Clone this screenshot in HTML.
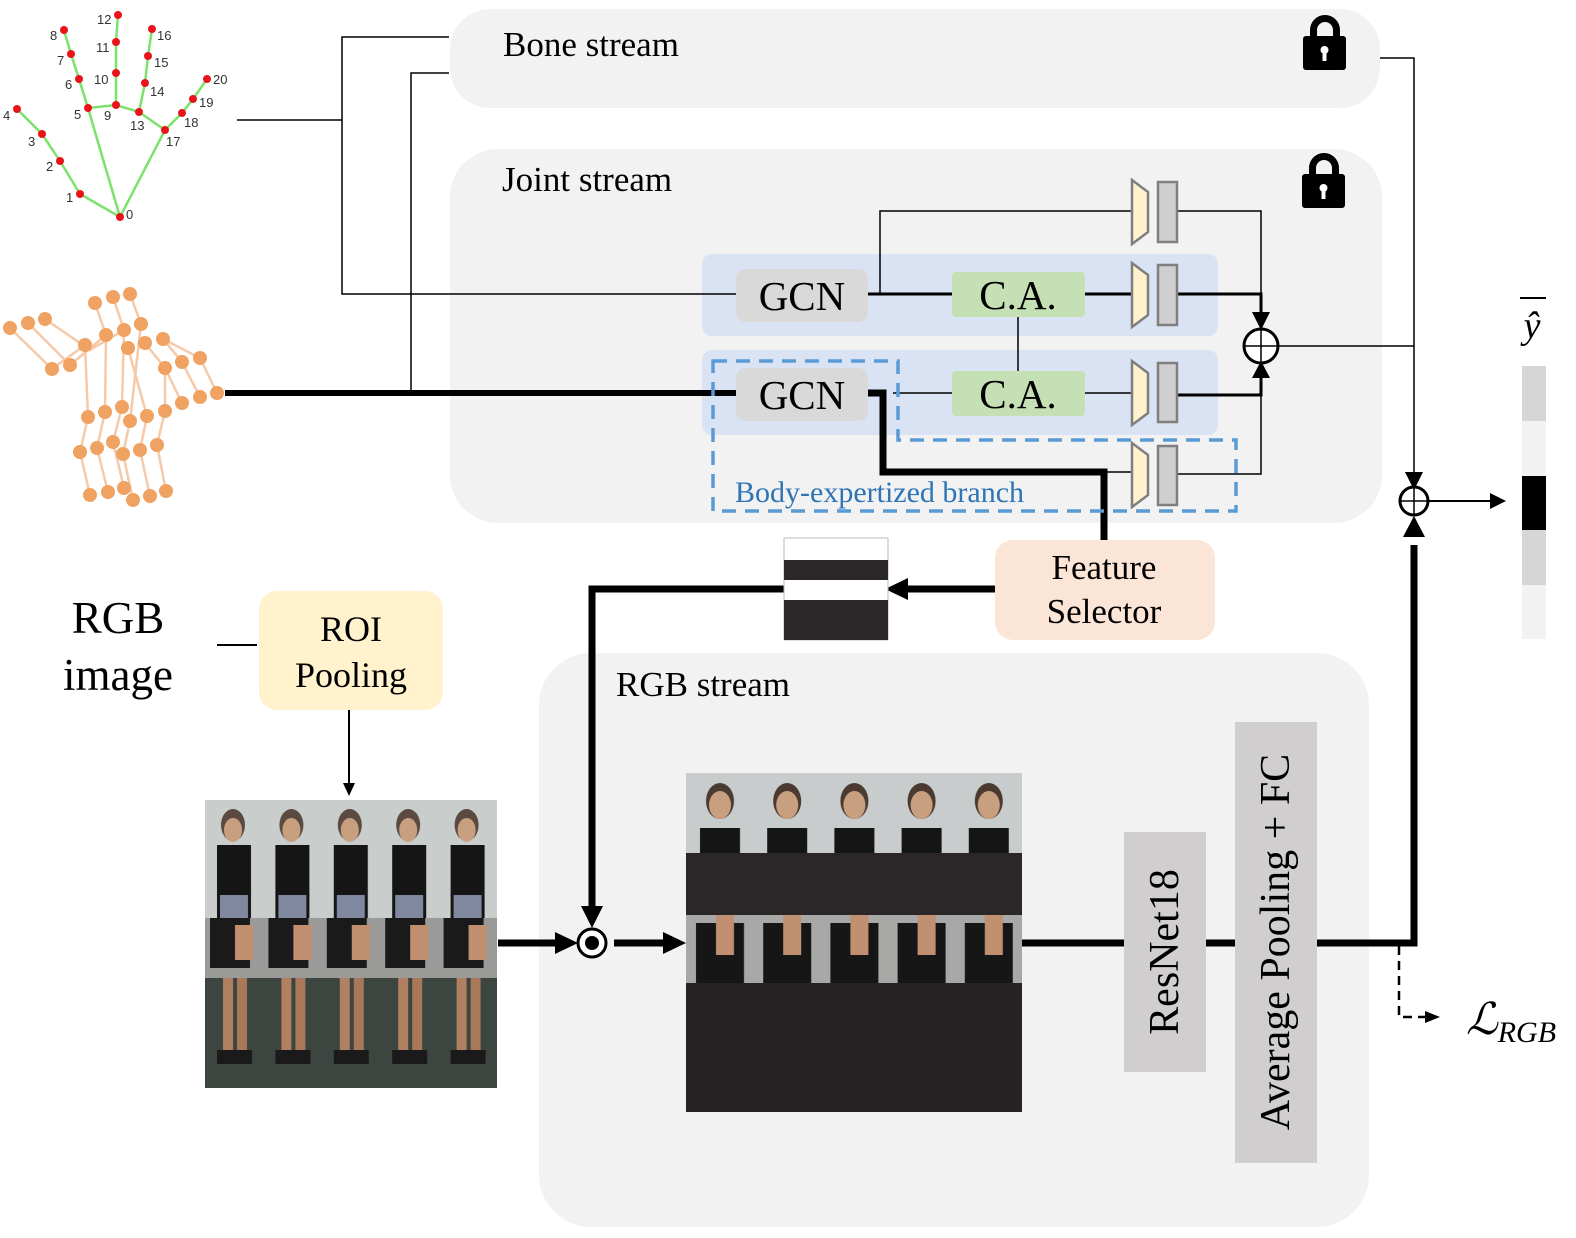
<!DOCTYPE html>
<html><head><meta charset="utf-8"><style>
html,body{margin:0;padding:0;background:#fff;}
svg{display:block;font-family:"Liberation Serif",serif;}
</style></head><body>
<svg width="1576" height="1238" viewBox="0 0 1576 1238" xmlns="http://www.w3.org/2000/svg">
<defs>
<pattern id="pl" x="205" y="800" width="58.4" height="288" patternUnits="userSpaceOnUse">
<rect width="58.4" height="118" fill="#c9cdcc"/>
<ellipse cx="28" cy="25" rx="12" ry="16" fill="#5a4a40"/>
<ellipse cx="28" cy="30" rx="9" ry="12" fill="#c8a080"/>
<rect x="12" y="45" width="34" height="73" fill="#151515"/>
<rect x="15" y="95" width="28" height="23" fill="#8088a0"/>
<rect y="118" width="58.4" height="60" fill="#9a9a98"/>
<rect x="5" y="118" width="40" height="50" fill="#1a1a1a"/>
<rect x="30" y="125" width="18" height="35" fill="#c09070"/>
<rect y="178" width="58.4" height="110" fill="#3c4540"/>
<rect x="18" y="178" width="10" height="80" fill="#b08060"/>
<rect x="32" y="178" width="10" height="80" fill="#a87858"/>
<rect x="12" y="250" width="35" height="14" fill="#1a1a1a"/>
</pattern>
<pattern id="pr" x="686" y="773" width="67.2" height="339" patternUnits="userSpaceOnUse">
<rect width="67.2" height="80" fill="#c8cccc"/>
<ellipse cx="34" cy="28" rx="14" ry="18" fill="#4a3a30"/>
<ellipse cx="34" cy="32" rx="11" ry="14" fill="#c8a080"/>
<rect x="14" y="55" width="40" height="25" fill="#151515"/>
<rect y="80" width="67.2" height="62" fill="#2b2728"/>
<rect y="142" width="67.2" height="68" fill="#a8a8a6"/>
<rect x="10" y="150" width="48" height="60" fill="#161616"/>
<rect x="30" y="142" width="18" height="40" fill="#c09070"/>
<rect y="210" width="67.2" height="129" fill="#272324"/>
</pattern>
</defs>

<rect x="450" y="9" width="930" height="99" rx="40" fill="#f2f2f2"/>
<rect x="450" y="149" width="932" height="374" rx="48" fill="#f2f2f2"/>
<rect x="539" y="653" width="830" height="574" rx="52" fill="#f2f2f2"/>
<text x="503" y="56" font-size="35">Bone stream</text>
<text x="502" y="191" font-size="35">Joint stream</text>
<text x="616" y="696" font-size="35">RGB stream</text>

<g fill="#000">
<path d="M1310,38 v-8 a15,15 0 0 1 30,0 v8 h-7 v-8 a8,8 0 0 0 -16,0 v8z"/>
<rect x="1303" y="36" width="43" height="34" rx="3"/>
<path d="M1309,176 v-8 a15,15 0 0 1 30,0 v8 h-7 v-8 a8,8 0 0 0 -16,0 v8z"/>
<rect x="1302" y="174" width="43" height="34" rx="3"/>
</g>
<g fill="#fff"><circle cx="1324.5" cy="50" r="4"/><rect x="1322.5" y="50" width="4" height="11"/>
<circle cx="1323.5" cy="188" r="4"/><rect x="1321.5" y="188" width="4" height="11"/></g>

<rect x="702" y="254" width="516" height="82" rx="10" fill="#dae3f3"/>
<rect x="702" y="350" width="516" height="85" rx="10" fill="#dae3f3"/>

<g stroke="#7be36b" stroke-width="2.5" fill="none">
<polyline points="17,109 42,134 60,161 80,194 120,217 165,130 182,113 193,99 207,79"/>
<polyline points="120,217 88,108 79,79 71,54 64,30"/>
<polyline points="88,108 116,105 139,112 165,130"/>
<polyline points="116,105 116,73 116,42 118,15"/>
<polyline points="139,112 145,83 148,56 152,29"/>
</g>
<g fill="#e8141a">
<circle cx="120" cy="217" r="4"/><circle cx="80" cy="194" r="4"/><circle cx="60" cy="161" r="4"/><circle cx="42" cy="134" r="4"/><circle cx="17" cy="109" r="4"/>
<circle cx="88" cy="108" r="4"/><circle cx="79" cy="79" r="4"/><circle cx="71" cy="54" r="4"/><circle cx="64" cy="30" r="4"/>
<circle cx="116" cy="105" r="4"/><circle cx="116" cy="73" r="4"/><circle cx="116" cy="42" r="4"/><circle cx="118" cy="15" r="4"/>
<circle cx="139" cy="112" r="4"/><circle cx="145" cy="83" r="4"/><circle cx="148" cy="56" r="4"/><circle cx="152" cy="29" r="4"/>
<circle cx="165" cy="130" r="4"/><circle cx="182" cy="113" r="4"/><circle cx="193" cy="99" r="4"/><circle cx="207" cy="79" r="4"/>
</g>
<g font-family="Liberation Sans,sans-serif" font-size="13" fill="#333">
<text x="126" y="219">0</text><text x="66" y="202">1</text><text x="46" y="171">2</text><text x="28" y="146">3</text><text x="3" y="120">4</text>
<text x="74" y="119">5</text><text x="65" y="89">6</text><text x="57" y="65">7</text><text x="50" y="40">8</text>
<text x="104" y="120">9</text><text x="94" y="84">10</text><text x="96" y="52">11</text><text x="97" y="24">12</text>
<text x="130" y="130">13</text><text x="150" y="96">14</text><text x="154" y="67">15</text><text x="157" y="40">16</text>
<text x="166" y="146">17</text><text x="184" y="127">18</text><text x="199" y="107">19</text><text x="213" y="84">20</text>
</g>

<g stroke="#f6c9a8" stroke-width="2.5" fill="none">
<polyline points="10,328 52,369 85,345 88,417 80,452 90,495"/>
<polyline points="28,323 70,365 106,335 105,412 97,448 108,492"/>
<polyline points="45,319 90,350 124,330 122,407 113,442 124,488"/>
<polyline points="95,303 106,335"/><polyline points="113,297 124,330"/><polyline points="130,294 141,324"/>
<polyline points="141,324 130,421 123,454 133,500"/>
<polyline points="128,348 147,416 140,450 150,496"/>
<polyline points="145,343 165,368 182,403"/><polyline points="163,339 182,362 200,397"/><polyline points="163,339 200,358 217,393"/>
<polyline points="165,368 165,411 157,445 166,491"/>
</g>
<g fill="#f0a262">
<circle cx="10" cy="328" r="7"/><circle cx="28" cy="323" r="7"/><circle cx="45" cy="319" r="7"/>
<circle cx="52" cy="369" r="7"/><circle cx="70" cy="365" r="7"/>
<circle cx="95" cy="303" r="7"/><circle cx="113" cy="297" r="7"/><circle cx="130" cy="294" r="7"/>
<circle cx="85" cy="345" r="7"/><circle cx="106" cy="335" r="7"/><circle cx="124" cy="330" r="7"/><circle cx="141" cy="324" r="7"/>
<circle cx="128" cy="348" r="7"/><circle cx="145" cy="343" r="7"/><circle cx="163" cy="339" r="7"/>
<circle cx="165" cy="368" r="7"/><circle cx="182" cy="362" r="7"/><circle cx="200" cy="358" r="7"/>
<circle cx="182" cy="403" r="7"/><circle cx="200" cy="397" r="7"/><circle cx="217" cy="393" r="7"/>
<circle cx="88" cy="417" r="7"/><circle cx="105" cy="412" r="7"/><circle cx="122" cy="407" r="7"/><circle cx="130" cy="421" r="7"/><circle cx="147" cy="416" r="7"/><circle cx="165" cy="411" r="7"/>
<circle cx="80" cy="452" r="7"/><circle cx="97" cy="448" r="7"/><circle cx="113" cy="442" r="7"/><circle cx="123" cy="454" r="7"/><circle cx="140" cy="450" r="7"/><circle cx="157" cy="445" r="7"/>
<circle cx="90" cy="495" r="7"/><circle cx="108" cy="492" r="7"/><circle cx="124" cy="488" r="7"/><circle cx="133" cy="500" r="7"/><circle cx="150" cy="496" r="7"/><circle cx="166" cy="491" r="7"/>
</g>

<g stroke="#000" stroke-width="1.5" fill="none">
<polyline points="237,120 342,120"/>
<polyline points="449,37 342,37 342,294 736,294"/>
<polyline points="449,73 411,73 411,393"/>
<polyline points="880,294 880,211 1132,211"/>
<polyline points="1177,211 1261,211 1261,328"/>
<polyline points="1018,316 1018,371"/>
<polyline points="893,393 952,393"/>
<polyline points="1085,393 1132,393"/>
<polyline points="1177,474 1261,474 1261,364"/>
<polyline points="1278,346 1414,346"/>
<polyline points="1380,58 1414,58 1414,484"/>
<polyline points="1104,472 1132,472"/>
</g>
<g stroke="#000" fill="none">
<polyline points="225,393 736,393" stroke-width="6"/>
<polyline points="866,294 952,294" stroke-width="3"/>
<polyline points="1085,294 1132,294" stroke-width="3"/>
<polyline points="1177,294 1261,294 1261,320" stroke-width="3"/>
<polyline points="1177,395 1261,395 1261,370" stroke-width="3"/>
<polyline points="866,393 883,393 883,472 1104,472 1104,540" stroke-width="7"/>
<polyline points="995,589 905,589" stroke-width="7"/>
<polyline points="784,589 592,589 592,914" stroke-width="7"/>
<polyline points="498,943 555,943" stroke-width="7"/>
<polyline points="614,943 665,943" stroke-width="7"/>
<polyline points="1022,943 1124,943" stroke-width="7"/>
<polyline points="1206,943 1235,943" stroke-width="7"/>
<polyline points="1317,943 1414,943 1414,545" stroke-width="7"/>
<polyline points="1428,501 1490,501" stroke-width="2"/>
<polyline points="349,710 349,783" stroke-width="2"/>
<polyline points="217,645 257,645" stroke-width="2"/>
</g>
<polyline points="1399,946 1399,1017 1425,1017" stroke="#000" stroke-width="2.5" stroke-dasharray="9,6" fill="none"/>
<g fill="#000">
<path d="M1252,312 L1270,312 L1261,330z"/>
<path d="M1252,378 L1270,378 L1261,361z"/>
<path d="M1405,472 L1423,472 L1414,490z"/>
<path d="M1403,537 L1425,537 L1414,516z"/>
<path d="M1490,493 L1506,501 L1490,509z"/>
<path d="M1425,1011 L1440,1017 L1425,1023z"/>
<path d="M885,589 L908,578 L908,600z"/>
<path d="M581,906 L603,906 L592,928z"/>
<path d="M555,932 L578,943 L555,954z"/>
<path d="M663,932 L686,943 L663,954z"/>
<path d="M343,783 L355,783 L349,796z"/>
</g>
<g stroke="#000" stroke-width="3" fill="#fff">
<circle cx="1261" cy="346" r="17"/><circle cx="1414" cy="501" r="14"/>
</g>
<g stroke="#000" stroke-width="1.5"><path d="M1244,346h34M1261,329v34M1400,501h28M1414,487v28"/></g>
<circle cx="592" cy="943" r="14" fill="#fff" stroke="#000" stroke-width="3"/>
<circle cx="592" cy="943" r="7" fill="#000"/>

<rect x="736" y="269" width="132" height="53" rx="10" fill="#d9d9d9"/>
<rect x="736" y="368" width="132" height="53" rx="10" fill="#d9d9d9"/>
<rect x="952" y="272" width="133" height="45" rx="4" fill="#c5e0b4"/>
<rect x="952" y="371" width="133" height="45" rx="4" fill="#c5e0b4"/>
<g font-size="41" text-anchor="middle">
<text x="802" y="310">GCN</text><text x="802" y="409">GCN</text>
<text x="1018" y="309">C.A.</text><text x="1018" y="408">C.A.</text>
</g>
<g stroke="#7f7f7f" stroke-width="2.5">
<path d="M1132,180 L1148,192 L1148,232 L1132,244z" fill="#fff2cc"/>
<path d="M1132,263 L1148,275 L1148,315 L1132,327z" fill="#fff2cc"/>
<path d="M1132,361 L1148,373 L1148,413 L1132,425z" fill="#fff2cc"/>
<path d="M1132,443 L1148,455 L1148,495 L1132,507z" fill="#fff2cc"/>
<rect x="1158" y="182" width="19" height="60" fill="#d0cece"/>
<rect x="1158" y="265" width="19" height="60" fill="#d0cece"/>
<rect x="1158" y="363" width="19" height="59" fill="#d0cece"/>
<rect x="1158" y="446" width="19" height="59" fill="#d0cece"/>
</g>
<path d="M713,361 H898 V440 H1236 V511 H713 Z" fill="none" stroke="#5b9bd5" stroke-width="3.5" stroke-dasharray="14,9"/>
<text x="735" y="502" font-size="30" fill="#2e75b6">Body-expertized branch</text>

<rect x="995" y="540" width="220" height="100" rx="18" fill="#fbe5d6"/>
<text x="1104" y="579" font-size="35" text-anchor="middle">Feature</text>
<text x="1104" y="623" font-size="35" text-anchor="middle">Selector</text>
<rect x="784" y="538" width="104" height="102" fill="#fff" stroke="#bbb"/>
<rect x="784" y="560" width="104" height="20" fill="#2b2728"/>
<rect x="784" y="600" width="104" height="40" fill="#2b2728"/>

<text x="118" y="633" font-size="45" text-anchor="middle">RGB</text>
<text x="118" y="690" font-size="45" text-anchor="middle">image</text>
<rect x="259" y="591" width="184" height="119" rx="18" fill="#fff2cc"/>
<text x="351" y="641" font-size="36" text-anchor="middle">ROI</text>
<text x="351" y="687" font-size="36" text-anchor="middle">Pooling</text>

<rect x="205" y="800" width="292" height="288" fill="url(#pl)"/>
<rect x="686" y="773" width="336" height="339" fill="url(#pr)"/>

<rect x="1124" y="832" width="82" height="240" fill="#d0cece"/>
<rect x="1235" y="722" width="82" height="441" fill="#d0cece"/>
<text transform="translate(1178,952) rotate(-90)" font-size="42" text-anchor="middle">ResNet18</text>
<text transform="translate(1289,942) rotate(-90)" font-size="42" text-anchor="middle">Average Pooling + FC</text>

<rect x="1522" y="366" width="24" height="55" fill="#d6d6d6"/>
<rect x="1522" y="421" width="24" height="55" fill="#f2f2f2"/>
<rect x="1522" y="476" width="24" height="54" fill="#000"/>
<rect x="1522" y="530" width="24" height="55" fill="#d6d6d6"/>
<rect x="1522" y="585" width="24" height="54" fill="#f2f2f2"/>
<line x1="1520" y1="298" x2="1546" y2="298" stroke="#000" stroke-width="2"/>
<text x="1532" y="338" font-size="38" font-style="italic" text-anchor="middle">ŷ</text>
<text x="1466" y="1034" font-size="44" font-style="italic">ℒ<tspan font-size="30" dy="8">RGB</tspan></text>
</svg>
</body></html>
